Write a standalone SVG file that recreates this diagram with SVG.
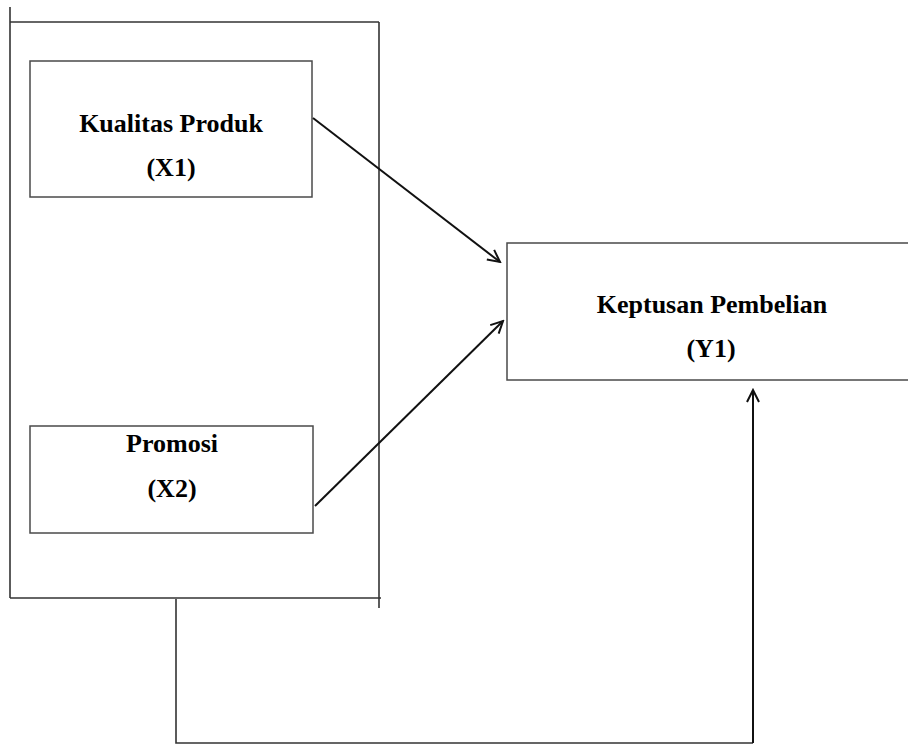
<svg xmlns="http://www.w3.org/2000/svg" width="908" height="745" viewBox="0 0 908 745">
<defs>
<style>
.box{fill:none;stroke:#4a4a4a;stroke-width:1.5}
.frame{fill:none;stroke:#333;stroke-width:1.6}
.arr{fill:none;stroke:#111;stroke-width:2}
.t{font-family:"Liberation Serif","Times New Roman",serif;font-weight:bold;font-size:26px;fill:#000;text-anchor:middle}
</style>
<marker id="ah" viewBox="0 0 16 16" refX="14" refY="8" markerWidth="16" markerHeight="16" markerUnits="userSpaceOnUse" orient="auto">
<path d="M2,2 L14,8 L2,14" fill="none" stroke="#111" stroke-width="2"/>
</marker>
</defs>
<rect width="908" height="745" fill="#fff"/>
<g id="frame">
<line class="frame" x1="10" y1="7" x2="10" y2="598"/>
<line class="frame" x1="10" y1="22" x2="379" y2="22"/>
<line class="frame" x1="379" y1="22" x2="379" y2="608"/>
<line class="frame" x1="10" y1="598" x2="381" y2="598"/>
</g>
<g id="x1">
<rect class="box" x="30" y="61" width="282" height="136"/>
<text class="t" x="171" y="132">Kualitas Produk</text>
<text class="t" x="171" y="176">(X1)</text>
</g>
<g id="x2">
<rect class="box" x="30" y="426" width="283" height="107"/>
<text class="t" x="172" y="452">Promosi</text>
<text class="t" x="172" y="497">(X2)</text>
</g>
<g id="y1">
<rect class="box" x="507" y="243" width="420" height="137"/>
<text class="t" x="712" y="313">Keptusan Pembelian</text>
<text class="t" x="711" y="357">(Y1)</text>
</g>
<g id="connectors">
<line class="arr" x1="313" y1="118" x2="500" y2="262" marker-end="url(#ah)"/>
<line class="arr" x1="315" y1="506" x2="503" y2="321" marker-end="url(#ah)"/>
<polyline class="frame" points="176,599 176,743 753,743"/>
<line class="arr" x1="753" y1="743" x2="753" y2="390" marker-end="url(#ah)"/>
</g>
</svg>
